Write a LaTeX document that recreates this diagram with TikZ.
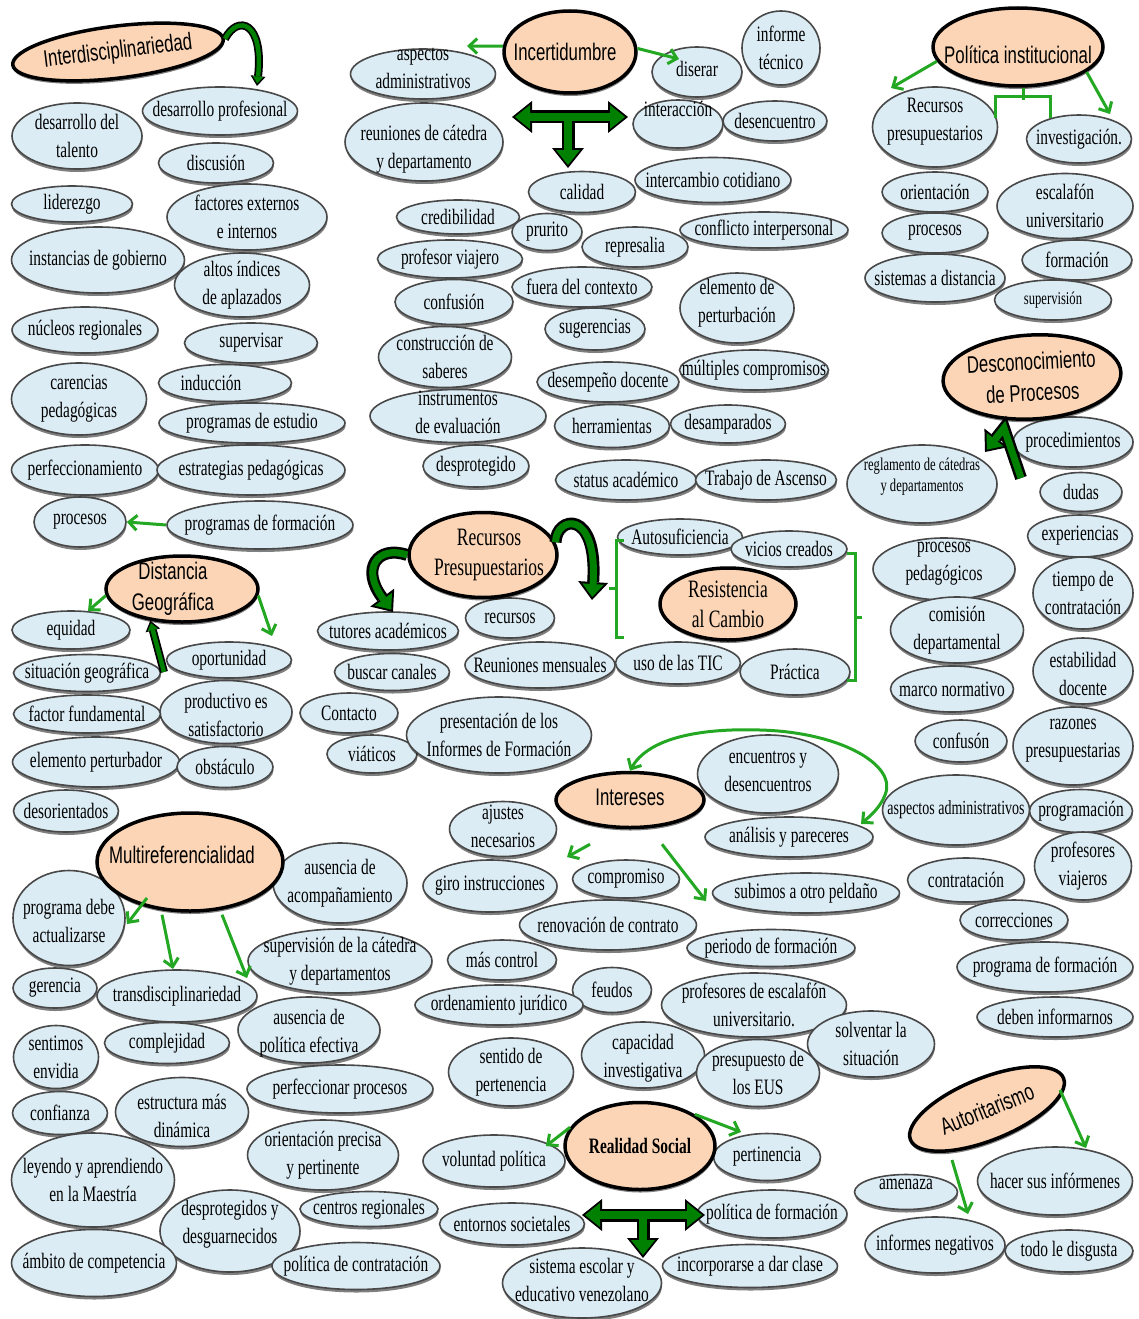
\documentclass[tikz,border=0pt]{standalone}
\usepackage{fontspec}
\setmainfont{Liberation Serif}[FakeStretch=0.7]
\newfontfamily\hubsans{Liberation Sans}[FakeStretch=0.7]
\usetikzlibrary{shapes.geometric,shadows,arrows.meta,calc}

\definecolor{bubfill}{RGB}{219,236,244}
\definecolor{bubline}{RGB}{72,72,72}
\definecolor{hubfill}{RGB}{251,213,181}
\definecolor{lgreen}{RGB}{36,168,36}
\definecolor{dgreen}{RGB}{0,128,0}

\tikzset{
  bub/.style={ellipse, fill=bubfill, draw=bubline, line width=1.6pt, inner sep=0pt,
    drop shadow={shadow xshift=0.5pt, shadow yshift=-3pt, fill=black, opacity=0.5}},
  hub/.style={ellipse, fill=hubfill, draw=black, line width=3.5pt, inner sep=0pt,
    drop shadow={shadow xshift=0.5pt, shadow yshift=-3pt, fill=black, opacity=0.5}},
  btxt/.style={font=\fontsize{22}{28}\selectfont, align=center, inner sep=0pt},
  smtext/.style={font=\fontsize{18}{21}\selectfont},
  htxt/.style={font=\hubsans\fontsize{24}{31}\selectfont, align=center, inner sep=0pt},
  hser/.style={font=\fontsize{25}{30}\selectfont, align=center, inner sep=0pt},
  garrow/.style={draw=lgreen, line width=3pt, -{Straight Barb[length=8pt,width=15pt]}},
  gbar/.style={draw=lgreen, line width=3pt},
  BigOut/.tip={Triangle[length=20pt,width=32pt,line width=0pt]},
  BigIn/.tip={Triangle[length=15pt,width=24pt,line width=0pt]},
  MidOut/.tip={Triangle[length=18pt,width=30pt,line width=0pt]},
  MidIn/.tip={Triangle[length=13pt,width=21.5pt,line width=0pt]},
  SmOut/.tip={Triangle[length=10pt,width=15pt,line width=0pt]},
  SmIn/.tip={Triangle[length=7pt,width=10.5pt,line width=0pt]},
  bigO/.style={draw=black, line width=13pt},
  bigI/.style={draw=dgreen, line width=8pt},
  midO/.style={draw=black, line width=12pt, line join=miter, -MidOut},
  midI/.style={draw=dgreen, line width=7pt, line join=miter, shorten >=3pt, -MidIn},
  smO/.style={draw=black, line width=8pt, -SmOut},
  smI/.style={draw=dgreen, line width=4.5pt, shorten >=2.5pt, -SmIn},
}

% light-blue concept bubble: [label options]{name}{x}{y}{width}{height}{text}
\newcommand{\bnode}[7][]{\node[bub, minimum width=#5pt, minimum height=#6pt,
  label={[btxt,#1]center:{#7}}] (#2) at (#3,#4) {};}
% outlined green block arrow along a path
\newcommand{\blockarrow}[3]{\draw[#1] #3; \draw[#2] #3;}

\begin{document}
\begin{tikzpicture}[x=1pt,y=-1pt]
\fill[white] (0,0) rectangle (1139,1319);
\useasboundingbox (0,0) rectangle (1139,1319);

% ---------- upper left ----------
\node[hub, rotate=7, minimum width=212pt, minimum height=52pt,
  label={[htxt, rotate=7]center:Interdisciplinariedad}] (inter) at (118,52) {};
\bnode{devprof}{220}{111}{155}{48}{desarrollo profesional}
\bnode{devtal}{77}{136}{130}{66}{desarrollo del\\talento}
\bnode{discu}{216}{163}{115}{40}{discusión}
\bnode{lider}{72}{204}{121}{36}{liderezgo}
\bnode{factores}{247}{217}{160}{66}{factores externos\\e internos}
\bnode{instanc}{98}{260}{173}{66}{instancias de gobierno}
\bnode{altos}{242}{285}{135}{64}{altos índices\\de aplazados}
\bnode{nucleos}{85}{330}{146}{46}{núcleos regionales}
\bnode{superv}{251}{343}{133}{40}{supervisar}
\bnode{carenc}{79}{399}{135}{72}{carencias\\pedagógicas}
\bnode[xshift=-14pt]{induc}{225}{383}{133}{37}{inducción}
\bnode{progest}{252}{423}{186}{40}{programas de estudio}
\bnode{perfec}{85}{470}{147}{50}{perfeccionamiento}
\bnode{estrat}{251}{470}{188}{50}{estrategias pedagógicas}
\bnode{procL}{80}{522}{92}{50}{procesos}
\bnode{progform}{260}{525}{186}{48}{programas de formación}

% ---------- Distancia Geográfica ----------
\bnode{equidad}{71}{630}{118}{38}{equidad}
\bnode{oport}{229}{660}{125}{36}{oportunidad}
\bnode{sitgeo}{87}{673}{147}{37}{situación geográfica}
\bnode[yshift=-3pt]{product}{226}{712}{132}{63}{productivo es\\satisfactorio}
\bnode{factfund}{87}{714}{147}{38}{factor fundamental}
\bnode{elempert}{96}{762}{167}{50}{elemento perturbador}
\bnode{obstac}{225}{767}{96}{41}{obstáculo}
\bnode{desor}{66}{811}{105}{42}{desorientados}
\node[hub, minimum width=152pt, minimum height=66pt,
  label={[htxt, xshift=-9pt]center:{Distancia\\Geográfica}}] (dist) at (182,589) {};

% ---------- Incertidumbre ----------
\bnode[yshift=6pt]{aspadm}{423}{74}{145}{50}{aspectos\\administrativos}
\bnode[yshift=-7pt]{reunion}{424}{142}{158}{78}{reuniones de cátedra\\y departamento}
\bnode[yshift=3pt]{diserar}{697}{72}{90}{50}{diserar}
\bnode{informe}{781}{48}{78}{74}{informe\\técnico}
\bnode[yshift=15pt]{interacc}{678}{124}{90}{48}{interacción}
\bnode{desencu}{775}{121}{104}{40}{desencuentro}
\bnode{calidad}{582}{192}{107}{41}{calidad}
\bnode{intercamb}{713}{180}{156}{45}{intercambio cotidiano}
\bnode{credib}{458}{217}{123}{34}{credibilidad}
\bnode{prurito}{547}{232}{70}{37}{prurito}
\bnode{represal}{635}{247}{106}{40}{represalia}
\bnode{conflict}{764}{230}{168}{36}{conflicto interpersonal}
\bnode{profviaj}{450}{259}{145}{38}{profesor viajero}
\bnode{confus}{454}{302}{118}{45}{confusión}
\bnode{fuera}{582}{287}{140}{40}{fuera del contexto}
\bnode{sugeren}{595}{329}{100}{42}{sugerencias}
\bnode[yshift=5pt]{elemperb}{737}{308}{114}{70}{elemento de\\perturbación}
\bnode{construc}{445}{357}{133}{61}{construcción de\\saberes}
\bnode[yshift=4pt]{instrum}{458}{416}{176}{53}{instrumentos\\de evaluación}
\bnode{desempeno}{608}{382}{142}{40}{desempeño docente}
\bnode{multiples}{754}{370}{149}{40}{múltiples compromisos}
\bnode{herram}{612}{426}{115}{43}{herramientas}
\bnode{desamp}{728}{424}{115}{38}{desamparados}
\bnode{desprot}{476}{466}{106}{42}{desprotegido}
\bnode{status}{626}{480}{141}{40}{status académico}
\bnode{trabajo}{766}{480}{141}{40}{Trabajo de Ascenso}
\node[hub, minimum width=132pt, minimum height=82pt,
  label={[htxt, xshift=-5pt]center:Incertidumbre}] (incert) at (570,52) {};

% ---------- Política institucional ----------
\bnode[yshift=5pt]{recpres}{935}{127}{125}{80}{Recursos\\presupuestarios}
\bnode{investig}{1079}{139}{105}{48}{investigación.}
\bnode{orient}{935}{192}{106}{40}{orientación}
\bnode{escalaf}{1065}{206}{136}{65}{escalafón\\universitario}
\bnode{procR}{935}{233}{106}{40}{procesos}
\bnode{formac}{1077}{260}{110}{40}{formación}
\bnode{sistdist}{935}{278}{140}{48}{sistemas a distancia}
\bnode[smtext]{supervis}{1053}{300}{117}{40}{supervisión}
\node[hub, minimum width=170pt, minimum height=78pt,
  label={[htxt, yshift=-8pt]center:Política institucional}] (politica) at (1018,47) {};

% ---------- Desconocimiento de Procesos ----------
\bnode[smtext, yshift=7pt]{reglam}{922}{484}{150}{78}{reglamento de cátedras\\y departamentos}
\bnode{proced}{1073}{442}{120}{50}{procedimientos}
\bnode{dudas}{1081}{492}{82}{39}{dudas}
\bnode{experien}{1080}{536}{105}{42}{experiencias}
\bnode{tiempo}{1083}{593}{100}{72}{tiempo de\\contratación}
\bnode[yshift=5pt]{procped}{944}{569}{142}{62}{procesos\\pedagógicos}
\bnode{comision}{957}{630}{133}{66}{comisión\\departamental}
\bnode[yshift=-3pt]{estab}{1083}{671}{100}{66}{estabilidad\\docente}
\bnode{marco}{952}{689}{123}{46}{marco normativo}
\bnode{confusR}{961}{741}{92}{42}{confusón}
\bnode[yshift=5pt]{razones}{1073}{746}{120}{78}{razones\\presupuestarias}
\bnode[font=\fontsize{20}{26}\selectfont]{aspadmR}{956}{810}{147}{70}{aspectos administrativos}
\bnode{program}{1081}{811}{103}{43}{programación}
\bnode{profviajR}{1083}{866}{97}{68}{profesores\\viajeros}
\bnode{contrat}{966}{880}{117}{44}{contratación}
\bnode{correc}{1014}{920}{108}{40}{correcciones}
\bnode{progformR}{1045}{967}{176}{50}{programa de formación}
\bnode{deben}{1055}{1017}{156}{40}{deben informarnos}
\node[hub, rotate=3, minimum width=178pt, minimum height=84pt,
  label={[htxt, rotate=3]center:{Desconocimiento\\de Procesos}}] (desc) at (1032,377) {};

% ---------- Recursos Presupuestarios / Resistencia al Cambio ----------
\bnode{tutores}{388}{631}{141}{38}{tutores académicos}
\bnode{buscar}{392}{672}{115}{37}{buscar canales}
\bnode{contacto}{349}{713}{98}{40}{Contacto}
\bnode{viaticos}{372}{754}{90}{38}{viáticos}
\bnode{presinf}{499}{735}{185}{76}{presentación de los\\Informes de Formación}
\bnode{recursos}{510}{618}{89}{40}{recursos}
\bnode{reunmens}{540}{665}{150}{46}{Reuniones mensuales}
\bnode{usotic}{678}{663}{125}{42}{uso de las TIC}
\bnode{practica}{795}{672}{110}{46}{Práctica}
\bnode{autosuf}{680}{537}{125}{36}{Autosuficiencia}
\bnode{vicios}{789}{549}{116}{36}{vicios creados}
\node[hub, minimum width=148pt, minimum height=85pt,
  label={[hser, xshift=6pt]center:{Recursos\\Presupuestarios}}] (recpresup) at (483,555) {};
\node[hub, minimum width=136pt, minimum height=72pt,
  label={[hser]center:{Resistencia\\al Cambio}}] (resist) at (728,604) {};

% ---------- Intereses ----------
\bnode[yshift=3pt]{encuen}{768}{774}{141}{78}{encuentros y\\desencuentros}
\bnode{analisis}{789}{837}{168}{40}{análisis y pareceres}
\bnode[yshift=3pt]{ajustes}{503}{829}{107}{55}{ajustes\\necesarios}
\bnode{giro}{490}{886}{134}{52}{giro instrucciones}
\bnode{comprom}{626}{879}{107}{38}{compromiso}
\bnode{subimos}{806}{893}{187}{40}{subimos a otro peldaño}
\bnode{renov}{608}{925}{177}{50}{renovación de contrato}
\bnode{periodo}{771}{948}{168}{37}{periodo de formación}
\bnode{mascontrol}{502}{960}{109}{40}{más control}
\bnode{feudos}{612}{990}{79}{45}{feudos}
\bnode{ordenam}{499}{1005}{168}{40}{ordenamiento jurídico}
\bnode{profesc}{754}{1005}{185}{64}{profesores de escalafón\\universitario.}
\bnode{solventar}{871}{1044}{127}{66}{solventar la\\situación}
\node[hub, minimum width=148pt, minimum height=55pt,
  label={[htxt, yshift=3pt]center:Intereses}] (intereses) at (630,800) {};

% ---------- Realidad Social ----------
\bnode{sentido}{511}{1072}{125}{68}{sentido de\\pertenencia}
\bnode[yshift=-3pt]{capacid}{643}{1055}{123}{66}{capacidad\\investigativa}
\bnode{presEUS}{758}{1073}{123}{67}{presupuesto de\\los EUS}
\bnode{voluntad}{494}{1161}{142}{52}{voluntad política}
\bnode{pertin}{767}{1157}{107}{47}{pertinencia}
\bnode{entornos}{512}{1224}{145}{42}{entornos societales}
\bnode{polform}{772}{1214}{150}{48}{política de formación}
\bnode[yshift=3pt]{sistesc}{582}{1283}{159}{70}{sistema escolar y\\educativo venezolano}
\bnode{incorp}{750}{1266}{175}{43}{incorporarse a dar clase}
\node[hub, minimum width=150pt, minimum height=87pt,
  label={[font=\bfseries\fontsize{22}{26}\selectfont]center:Realidad Social}] (realidad) at (640,1146) {};

% ---------- Multireferencialidad ----------
\bnode{ausacomp}{340}{883}{134}{80}{ausencia de\\acompañamiento}
\bnode[yshift=-3pt]{progdebe}{69}{918}{112}{95}{programa debe\\actualizarse}
\bnode{supcat}{340}{961}{184}{64}{supervisión de la cátedra\\y departamentos}
\bnode{gerencia}{55}{988}{84}{40}{gerencia}
\bnode{transd}{177}{996}{160}{52}{transdisciplinariedad}
\bnode[yshift=-3pt]{auspol}{309}{1030}{142}{66}{ausencia de\\política efectiva}
\bnode{complej}{167}{1043}{125}{41}{complejidad}
\bnode{sentimos}{56}{1057}{85}{63}{sentimos\\envidia}
\bnode{perfproc}{340}{1089}{186}{48}{perfeccionar procesos}
\bnode{confianza}{60}{1113}{95}{43}{confianza}
\bnode[yshift=-4pt]{estruct}{182}{1112}{133}{69}{estructura más\\dinámica}
\bnode{orprec}{323}{1155}{151}{70}{orientación precisa\\y pertinente}
\bnode{leyendo}{93}{1180}{163}{94}{leyendo y aprendiendo\\en la Maestría}
\bnode[yshift=7pt]{desprotg}{230}{1231}{140}{82}{desprotegidos y\\desguarnecidos}
\bnode{centros}{369}{1209}{138}{35}{centros regionales}
\bnode{ambito}{94}{1263}{165}{67}{ámbito de competencia}
\bnode{polcont}{356}{1266}{168}{47}{política de contratación}
\node[hub, minimum width=186pt, minimum height=98pt,
  label={[htxt, xshift=-8pt, yshift=7pt]center:Multireferencialidad}] (multi) at (190,862) {};

% ---------- Autoritarismo ----------
\bnode[yshift=8pt]{amenaza}{906}{1192}{103}{35}{amenaza}
\bnode{hacer}{1055}{1181}{155}{68}{hacer sus infórmenes}
\bnode{infneg}{935}{1245}{140}{56}{informes negativos}
\bnode{todo}{1069}{1251}{128}{42}{todo le disgusta}
\node[hub, rotate=22, minimum width=165pt, minimum height=62pt,
  label={[htxt, rotate=22]center:Autoritarismo}] (auto) at (987,1109) {};

% ================= connectors =================
% free ends of arrows
\coordinate (iaEnd) at (257,86);
\coordinate (incL) at (467,46);
\coordinate (incR) at (679,59);
\coordinate (polL) at (891,88);
\coordinate (polR) at (1110,114);
\coordinate (distL) at (88,611);
\coordinate (distR) at (272,636);
\coordinate (distFoot) at (164,672);
\coordinate (rpL) at (393,612);
\coordinate (rpR) at (592,600);
\coordinate (dcFoot) at (1021,478);
\coordinate (dcBend) at (1004,428);
\coordinate (dcTip) at (985,452);
\coordinate (anTip) at (861,824);
\coordinate (intL) at (567,857);
\coordinate (intR) at (706,901);
\coordinate (muA) at (127,924);
\coordinate (muB) at (173,969);
\coordinate (muC) at (247,978);
\coordinate (reL) at (546,1146);
\coordinate (reR) at (741,1132);
\coordinate (auA) at (1086,1148);
\coordinate (auB) at (968,1214);
% T-shaped block arrows
\coordinate (tAL) at (512,117);
\coordinate (tAR) at (628,117);
\coordinate (tAM) at (568,117);
\coordinate (tAB) at (568,168);
\coordinate (tBL) at (582,1215);
\coordinate (tBR) at (705,1215);
\coordinate (tBM) at (643,1215);
\coordinate (tBB) at (643,1258);

% Interdisciplinariedad hook
\blockarrow{smO}{smI}{(inter.east) .. controls (238,14) and (264,22) .. (iaEnd)}

% Incertidumbre
\draw[garrow] (incert.175) -- (incL);
\draw[garrow] (incert.3) -- (incR);
\draw[bigO, BigOut-BigOut] (tAL) -- (tAR);
\draw[bigO, -BigOut] (tAM) -- (tAB);
\draw[bigI, shorten <=3pt, shorten >=3pt, BigIn-BigIn] (tAL) -- (tAR);
\draw[bigI, shorten >=3pt, -BigIn] (tAM) -- (tAB);

% Política institucional
\draw[garrow] (politica.190) -- (polL);
\draw[garrow] (politica.-20) -- (polR);
\draw[gbar] ([xshift=5pt]politica.south) -- ++(0,12);
\draw[gbar] (995,118) -- (995,97) -- (1050,97) -- (1050,118);

% programas de formación -> procesos
\draw[garrow] (progform.west) -- (procL.east);

% Distancia Geográfica
\draw[garrow] (dist.185) -- (distL);
\draw[garrow] (dist.-5) -- (distR);
\blockarrow{smO}{smI}{(distFoot) -- (dist.225)}

% Recursos Presupuestarios
\blockarrow{midO}{midI}{(recpresup.180) .. controls (378,545) and (360,568) .. (rpL)}
\blockarrow{midO}{midI}{(recpresup.10) .. controls (556,516) and (598,508) .. (rpR)}

% Resistencia al Cambio brackets
\draw[gbar] (624,540) -- (616,540) -- (616,637) -- (624,637);
\draw[gbar] (616,588) -- (609,588);
\draw[gbar] (847,553) -- (855,553) -- (855,680) -- (847,680);
\draw[gbar] (855,617) -- (862,617);

% Desconocimiento de Procesos
\blockarrow{midO}{midI}{(dcFoot) -- (dcBend) -- (dcTip)}

% Intereses
\draw[garrow, {Straight Barb[length=8pt,width=15pt]}-{Straight Barb[length=8pt,width=15pt]}]
  (intereses.north) .. controls (648,738) and (700,728) .. (760,730)
  .. controls (840,732) and (898,765) .. (885,795)
  .. controls (880,808) and (870,816) .. (anTip);
\draw[garrow] ($(intereses.south)+(-40,15)$) -- (intL);
\draw[garrow] ($(intereses.south)+(32,15)$) -- (intR);

% Multireferencialidad
\draw[garrow] ($(multi.center)+(-43,36)$) -- (muA);
\draw[garrow] ($(multi.south)+(-28,2)$) -- (muB);
\draw[garrow] ($(multi.south)+(32,2)$) -- (muC);

% Realidad Social
\draw[garrow] (realidad.165) -- (reL);
\draw[garrow] (realidad.30) -- (reR);
\draw[bigO, BigOut-BigOut] (tBL) -- (tBR);
\draw[bigO, -BigOut] (tBM) -- (tBB);
\draw[bigI, shorten <=3pt, shorten >=3pt, BigIn-BigIn] (tBL) -- (tBR);
\draw[bigI, shorten >=3pt, -BigIn] (tBM) -- (tBB);

% Autoritarismo
\draw[garrow] ($(auto.center)+(73,-19)$) -- (auA);
\draw[garrow] ($(auto.center)+(-35,51)$) -- (auB);

\end{tikzpicture}
\end{document}
